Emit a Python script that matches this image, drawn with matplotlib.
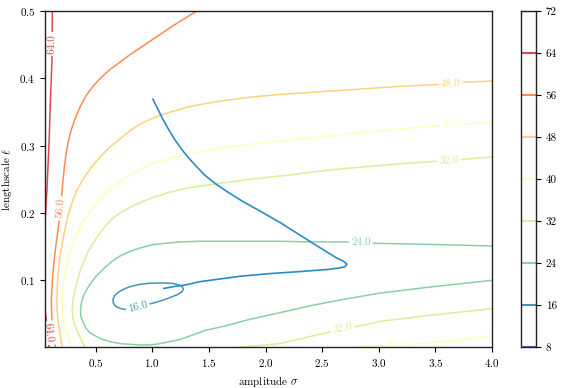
import matplotlib
matplotlib.use("Agg")
import matplotlib.pyplot as plt
from matplotlib.colors import Normalize

plt.rcParams.update({
    "font.family": "serif",
    "font.serif": ["cmr10"],
    "mathtext.fontset": "cm",
    "axes.formatter.use_mathtext": True,
    "axes.unicode_minus": False,
    "font.size": 8,
    "xtick.direction": "out",
    "ytick.direction": "out",
    "xtick.major.size": 3.5,
    "ytick.major.size": 3.5,
    "axes.linewidth": 1.0,
})

# ---------------- data ----------------
levels = [8, 16, 24, 32, 40, 48, 56, 64, 72]
x_ticks = [0.5, 1.0, 1.5, 2.0, 2.5, 3.0, 3.5, 4.0]
y_ticks = [0.1, 0.2, 0.3, 0.4, 0.5]

c64a_x = [0.118, 0.116, 0.114, 0.101, 0.088, 0.070, 0.057, 0.050]
c64a_y = [0.500, 0.451, 0.424, 0.368, 0.301, 0.234, 0.197, 0.185]
c64b_x = [0.052, 0.057, 0.079, 0.088]
c64b_y = [0.058, 0.051, 0.022, 0.000]

c56_x = [1.394, 1.288, 1.173, 1.068, 0.979, 0.891, 0.803, 0.714, 0.626, 0.547,
         0.476, 0.414, 0.361, 0.317, 0.282, 0.256, 0.238, 0.223, 0.211, 0.201,
         0.189, 0.178, 0.165, 0.151, 0.138, 0.127, 0.118, 0.112, 0.109, 0.112,
         0.119, 0.128, 0.137, 0.145]
c56_y = [0.500, 0.489, 0.477, 0.465, 0.455, 0.445, 0.435, 0.424, 0.413, 0.401,
         0.388, 0.374, 0.357, 0.339, 0.322, 0.304, 0.286, 0.267, 0.247, 0.228,
         0.207, 0.189, 0.171, 0.154, 0.136, 0.118, 0.100, 0.082, 0.066, 0.049,
         0.035, 0.021, 0.011, 0.000]

c48_x = [4.000, 3.733, 3.539, 3.186, 2.833, 2.480, 2.127, 1.862, 1.597, 1.421,
         1.306, 1.182, 1.068, 0.979, 0.891, 0.803, 0.714, 0.626, 0.538, 0.458,
         0.388, 0.335, 0.295, 0.263, 0.236, 0.213, 0.194, 0.178, 0.167, 0.161,
         0.158, 0.161, 0.170, 0.182, 0.194, 0.207]
c48_y = [0.396, 0.394, 0.391, 0.388, 0.384, 0.380, 0.376, 0.372, 0.366, 0.361,
         0.357, 0.351, 0.345, 0.339, 0.332, 0.322, 0.310, 0.298, 0.283, 0.267,
         0.250, 0.234, 0.217, 0.200, 0.181, 0.162, 0.145, 0.125, 0.107, 0.090,
         0.070, 0.052, 0.037, 0.024, 0.012, 0.000]

c40a_x = [4.000, 3.636, 3.186, 2.833, 2.568, 2.188, 1.862, 1.597, 1.421, 1.306,
          1.156, 1.006, 0.891, 0.803, 0.714, 0.626, 0.538, 0.458, 0.388, 0.335,
          0.291, 0.260, 0.235, 0.218, 0.207, 0.204, 0.211, 0.227, 0.249, 0.269,
          0.286]
c40a_y = [0.335, 0.331, 0.325, 0.319, 0.314, 0.308, 0.302, 0.296, 0.291, 0.287,
          0.281, 0.274, 0.265, 0.256, 0.246, 0.234, 0.219, 0.204, 0.188, 0.170,
          0.151, 0.133, 0.115, 0.097, 0.079, 0.063, 0.046, 0.033, 0.021, 0.011,
          0.000]
c40b_x = [2.806, 3.009, 3.159, 3.300, 3.689, 4.000]
c40b_y = [0.0015, 0.003, 0.004, 0.005, 0.011, 0.018]

c32a_x = [4.000, 3.618, 3.186, 2.833, 2.568, 2.188, 1.862, 1.597, 1.421, 1.306,
          1.156, 1.006, 0.917, 0.847, 0.776, 0.714, 0.644, 0.582, 0.529, 0.476,
          0.432, 0.397, 0.366, 0.339, 0.317, 0.300, 0.293, 0.300, 0.317, 0.344,
          0.375, 0.406]
c32a_y = [0.283, 0.278, 0.273, 0.268, 0.264, 0.256, 0.250, 0.244, 0.240, 0.237,
          0.231, 0.223, 0.217, 0.212, 0.206, 0.200, 0.191, 0.180, 0.168, 0.155,
          0.142, 0.128, 0.115, 0.100, 0.085, 0.070, 0.055, 0.043, 0.033, 0.022,
          0.011, 0.000]
c32b_x = [1.730, 2.127, 2.506, 2.680, 2.859, 3.009, 3.451, 4.000]
c32b_y = [0.000, 0.006, 0.021, 0.028, 0.033, 0.039, 0.048, 0.058]

c24_x = [4.000, 3.539, 2.983, 2.842, 2.700, 2.418, 2.127, 1.888, 1.597, 1.421,
         1.244, 1.112, 1.006, 0.891, 0.803, 0.714, 0.635, 0.564, 0.503, 0.450,
         0.406, 0.379, 0.366, 0.370, 0.388, 0.414, 0.450, 0.503, 0.564, 0.626,
         0.714, 0.803, 0.891, 0.979, 1.068, 1.156, 1.244, 1.359, 1.474, 1.641,
         1.835, 2.127, 2.418, 2.700, 3.009, 3.451, 4.000]
c24_y = [0.151, 0.153, 0.155, 0.156, 0.157, 0.157, 0.158, 0.158, 0.158, 0.158,
         0.157, 0.155, 0.153, 0.148, 0.143, 0.136, 0.127, 0.116, 0.106, 0.094,
         0.082, 0.070, 0.058, 0.046, 0.038, 0.029, 0.022, 0.017, 0.012, 0.009,
         0.006, 0.005, 0.004, 0.004, 0.006, 0.009, 0.012, 0.019, 0.026, 0.032,
         0.041, 0.052, 0.063, 0.072, 0.081, 0.090, 0.100]

c16_x = [0.962, 1.032, 1.103, 1.173, 1.226, 1.262, 1.275, 1.266, 1.235, 1.182,
         1.112, 1.041, 0.962, 0.891, 0.820, 0.759, 0.706, 0.670, 0.653, 0.657,
         0.679, 0.714, 0.759, 0.803, 0.873, 0.962]
c16_y = [0.0643, 0.0673, 0.0710, 0.0755, 0.0790, 0.0830, 0.0870, 0.0903, 0.0933,
         0.0953, 0.0960, 0.0960, 0.0955, 0.0940, 0.0914, 0.0877, 0.0830, 0.0777,
         0.0718, 0.0658, 0.0613, 0.0584, 0.0569, 0.0572, 0.0598, 0.0643]

path_sigma = [1.006, 1.032, 1.059, 1.094, 1.138, 1.191, 1.253, 1.315, 1.385, 1.465,
              1.562, 1.668, 1.800, 1.950, 2.127, 2.277, 2.418, 2.533, 2.630, 2.692,
              2.718, 2.700, 2.638, 2.541, 2.303, 2.038, 1.774, 1.553, 1.421, 1.288,
              1.200, 1.103]
path_ell = [0.369, 0.360, 0.351, 0.339, 0.326, 0.311, 0.296, 0.283, 0.270, 0.256,
            0.243, 0.231, 0.217, 0.203, 0.186, 0.170, 0.155, 0.143, 0.133, 0.128,
            0.124, 0.120, 0.118, 0.116, 0.113, 0.110, 0.106, 0.101, 0.098, 0.093,
            0.091, 0.088]

contour_lines = [
    (64, c64a_x, c64a_y), (64, c64b_x, c64b_y),
    (56, c56_x, c56_y),
    (48, c48_x, c48_y),
    (40, c40a_x, c40a_y), (40, c40b_x, c40b_y),
    (32, c32a_x, c32a_y), (32, c32b_x, c32b_y),
    (24, c24_x, c24_y),
    (16, c16_x, c16_y),
]

label_level = [64, 64, 56, 48, 40, 32, 24, 32, 40, 16]
label_x = [0.116, 0.079, 0.189, 3.636, 3.636, 3.618, 2.842, 2.680, 3.159, 0.873]
label_y = [0.451, 0.022, 0.207, 0.392, 0.331, 0.278, 0.157, 0.028, 0.004, 0.060]
label_rot = [89, -84, 85, 3, 4, 4, -0.5, 11, 3, 14]

# ---------------- plot ----------------
cmap = plt.get_cmap("Spectral_r")
norm = Normalize(vmin=levels[0], vmax=levels[-1])

fig = plt.figure(figsize=(5.64, 3.88), dpi=100)
ax = fig.add_axes([0.0798, 0.1057, 0.7926, 0.866])
cax = fig.add_axes([0.9232, 0.1057, 0.0271, 0.866])

for lev, xs, ys in contour_lines:
    ax.plot(xs, ys, color=cmap(norm(lev)), lw=1.1, zorder=2,
            solid_joinstyle="round")

for lev, lx, ly, rot in zip(label_level, label_x, label_y, label_rot):
    ax.text(lx, ly, f"{lev:.1f}", color=cmap(norm(lev)), fontsize=8,
            rotation=rot, ha="center", va="center", rotation_mode="anchor",
            bbox=dict(boxstyle="square,pad=0.2", fc="white", ec="none"),
            zorder=4, clip_on=True)

ax.plot(path_sigma, path_ell, color="#2b8cc4", lw=1.2, zorder=3,
        solid_joinstyle="round")

ax.set_xlim(0.053, 4.0)
ax.set_ylim(0.001, 0.5)
ax.set_xticks(x_ticks)
ax.set_yticks(y_ticks)
ax.set_xlabel(r"amplitude $\sigma$")
ax.set_ylabel(r"lengthscale $\ell$")
for sp in ax.spines.values():
    sp.set_zorder(10)
    sp.set_color("#222222")

# colorbar (line contours)
cax.set_xlim(0, 1)
cax.set_ylim(levels[0], levels[-1])
for lev in levels:
    z = 12 if lev == levels[0] else 2
    cax.axhline(lev, color=cmap(norm(lev)), lw=1.5, zorder=z)
cax.set_xticks([])
cax.yaxis.tick_right()
cax.set_yticks(levels)
cax.set_yticklabels([str(l) for l in levels])
for sp in cax.spines.values():
    sp.set_zorder(10)
    sp.set_color("#222222")

fig.savefig("out.png", dpi=100)
